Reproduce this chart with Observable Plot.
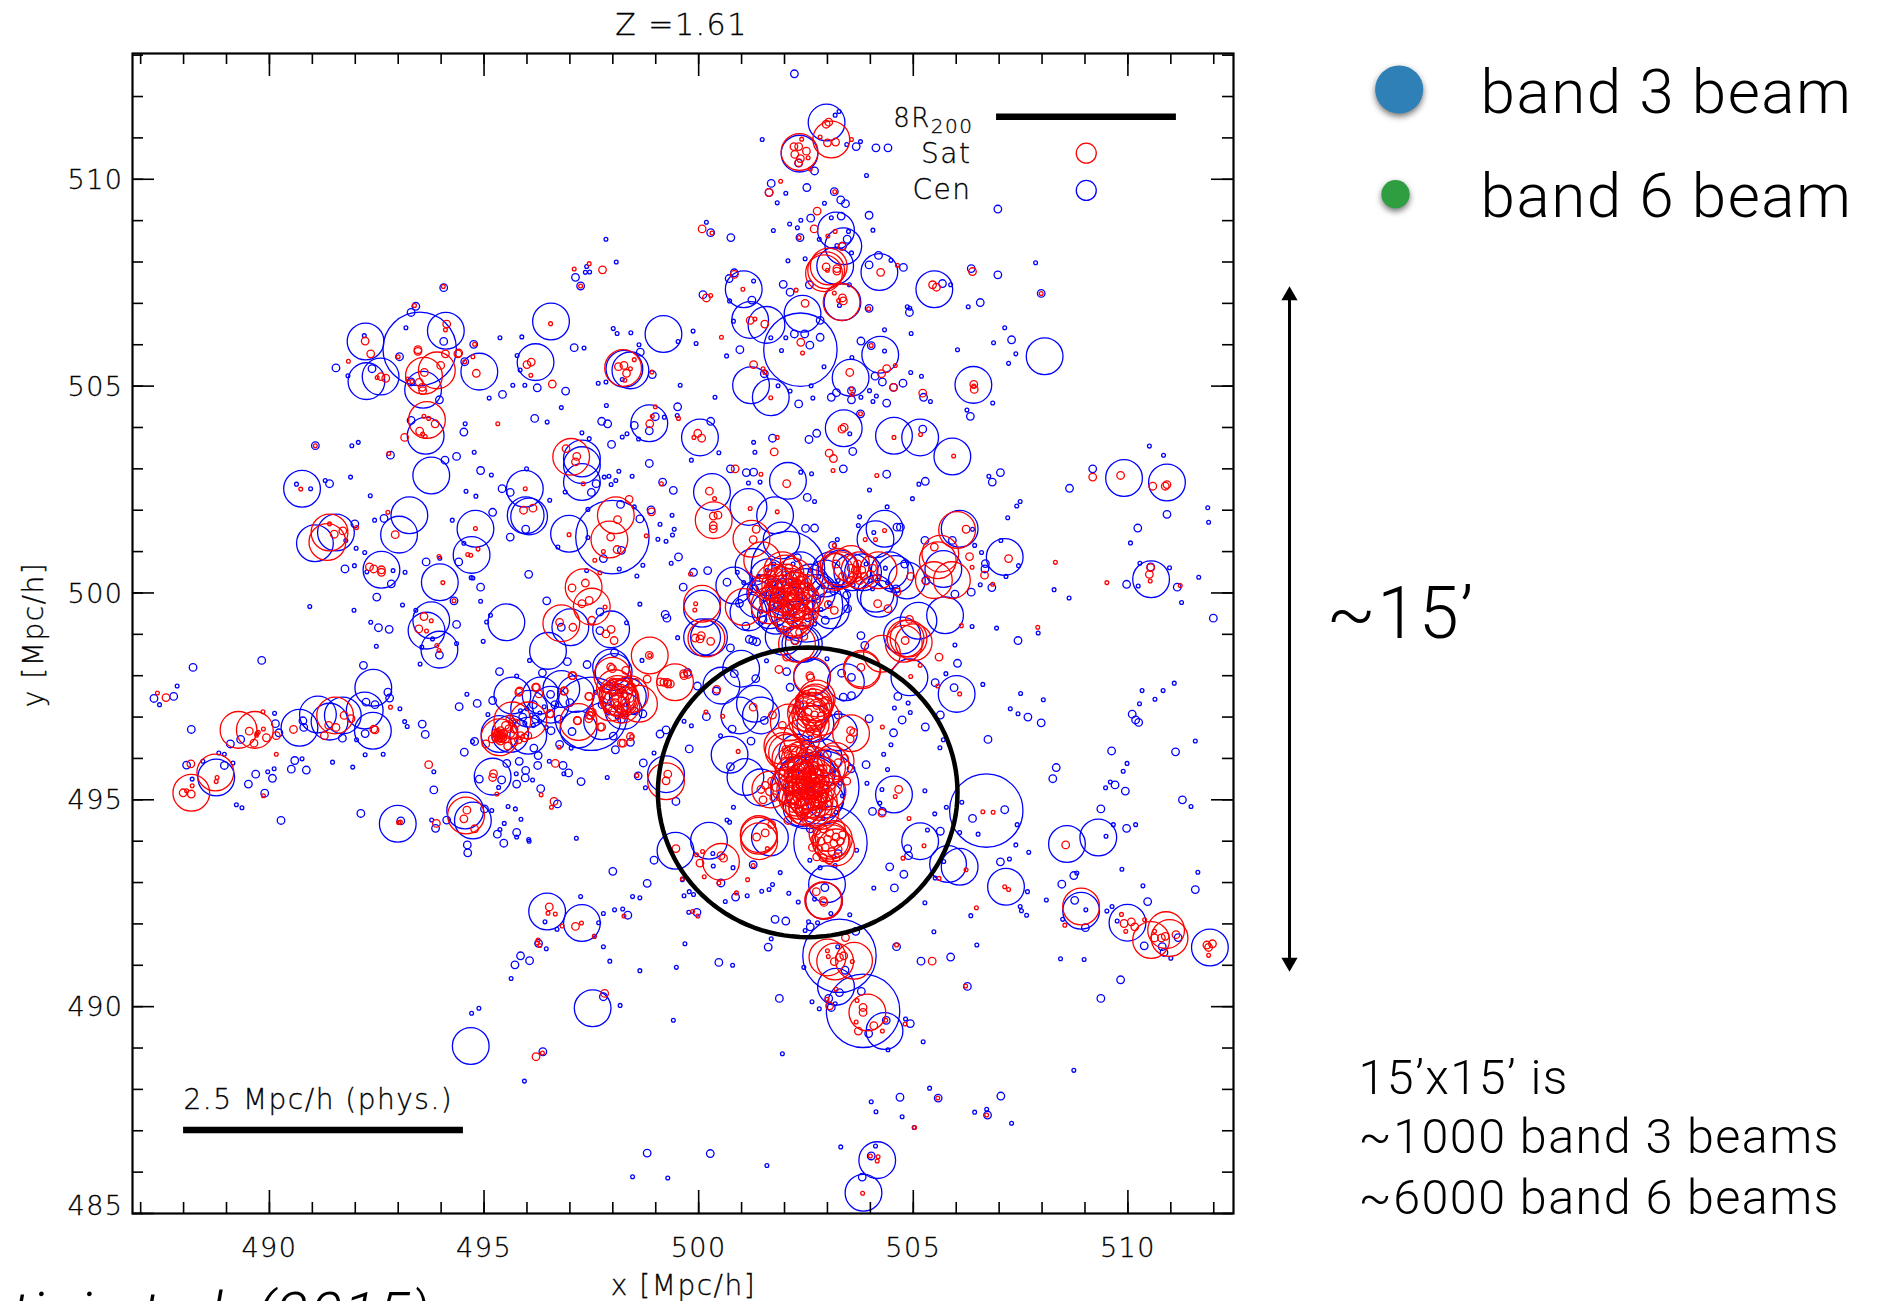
<!DOCTYPE html>
<html><head><meta charset="utf-8">
<script src="https://cdn.jsdelivr.net/npm/d3@7"></script>
<script src="https://cdn.jsdelivr.net/npm/@observablehq/plot@0.6"></script>
<style>
html,body{margin:0;padding:0;background:#fff;overflow:hidden}
svg{display:block}
[aria-description="beam"]{filter:drop-shadow(0 3px 3px rgba(0,0,0,.55))}
[aria-description="idl"] text, g[aria-label$="tick label"] text{stroke:#000;stroke-width:.3px}
</style></head><body>
<script>
// radii (Mpc/h) of the ring classes
const rTiny=0.044, rSmall=0.088, rBig=0.428, rHuge=0.855, rLegend=0.233;
const xMajor=[490,495,500,505,510];
const yMajor=[490,495,500,505,510];
const yMajorTicks=[485,490,495,500,505,510];
const xMinor=d3.range(487,513);
const yMinor=d3.range(485,514);

const cenHuge=[[493.5,505.9],[502.37,505.88],[497.99,501.35],[497.49,497.08],[502.54,495.19],[502.88,495.3],[503.07,493.96],[506.7,494.74],[503.28,491.23],[503.83,489.9],[502.08,500.6],[502.5,499.7]];
const cenBig=[[492.24,506.08],[494.11,506.34],[494.89,505.35],[492.26,505.12],[492.59,505.23],[493.58,504.91],[496.56,506.56],[496.2,505.58],[498.41,505.38],[498.27,505.42],[499.18,506.26],[498.85,504.1],[493.64,503.8],
[502.98,511.37],[502.35,510.62],[503.18,507.91],[503.2,508.76],[503.37,508.38],[503.35,507.03],[504.21,507.76],[505.49,507.34],[501.05,507.34],[501.2,506.6],[501.58,506.48],[502.42,506.75],[504.23,505.76],[503.54,505.2],[501.22,505.02],[501.68,504.73],[506.4,505.03],[508.06,505.72],[503.38,503.98],[504.55,503.8],[505.16,503.76],[500.03,503.76],
[490.76,502.52],[491.55,501.46],[491.06,501.2],[493.26,501.88],[493.02,501.41],[492.61,500.56],[493.97,500.26],[493.77,499.34],[493.66,499.09],[493.96,498.63],[493.77,502.84],[495.95,502.52],[495.97,501.88],[496.05,501.85],[494.8,501.55],[494.71,500.92],[496.98,501.43],[497.28,503.25],[497.28,503.09],[497.28,502.68],[495.52,499.29],[496.49,498.6],[497.01,499.17],[497.96,499.12],[497.96,498.2],[492.42,497.71],[492.22,497.16],[492.41,496.67],[490.7,496.74],[491.13,497.06],[491.4,496.89],[491.71,497.04],[495.66,497.52],[496.32,497.52],[496.8,497.68],[497.14,497.56],[495.61,496.59],[496.03,496.55],[495.36,496.59],[488.76,495.54],[495.2,495.56],[494.56,494.74],[494.74,494.5],[492.99,494.42],[499.24,495.62],[498.02,498.09],
[502.08,502.71],[505.91,503.3],[500.31,502.44],[501.16,502.08],[501.78,501.88],[504.33,501.55],[504.12,501.3],[506.08,501.55],[507.13,500.87],[501.93,501.27],[509.91,502.78],[510.91,502.67],[510.54,500.33],[505.7,500.58],[504.12,499.98],[504.2,499.86],[505.74,499.46],[505.12,499.33],[504.74,498.97],[500.83,500.18],[501.28,500.63],[501.62,500.38],[503.08,500.55],[503.58,500.5],[503.83,500.5],[504.58,500.46],[503.08,499.58],[501.16,499.53],[501.66,499.58],[500.08,499.62],[500.08,498.93],[500.24,498.93],[502.45,498.77],[500.99,498.17],[500.53,497.76],[503.43,497.84],[504.91,497.96],[506.01,497.56],[501.31,497.32],[500.95,497.04],[501.45,497.04],[500.72,496.09],[501.09,495.55],[501.45,495.3],[502.91,496.03],[502.72,496.84],[504.55,495.13],[505.16,494.0],[500.24,494.01],[501.66,494.09],[508.58,493.93],[509.31,494.09],[502.3,496.14],[503.27,496.63],[502.64,497.96],[501.98,498.94],[502.37,498.77],[502.37,500.55],[503.3,500.59],[503.07,499.82],
[496.47,492.3],[497.28,492.02],[497.53,489.96],[494.69,489.05],[499.46,493.77],[505.81,493.45],[506.08,493.38],[507.16,492.9],[508.91,492.32],[502.99,492.96],[502.92,492.56],[509.99,492.03],[511.91,491.43],[503.2,490.48],[504.33,489.41],[504.16,486.29],[503.84,485.5],
[501.55,500.0],[501.8,499.45],[502.0,499.9],[502.25,499.35],[502.6,500.25],[502.75,500.0],[501.35,499.85],[502.95,500.35],[504.45,500.55],[504.85,500.3],[497.2,496.7],[497.75,496.9],[498.25,497.15],[498.35,497.5],[496.05,497.2],[496.55,497.3],[502.3,495.6],[502.75,495.65],[502.95,495.0],[502.4,494.8]];
const cenSmall=[[494.06,507.38],[493.41,506.93],[493.3,506.78],[493.03,505.71],[494.06,506.08],[494.76,506.01],[491.55,505.44],[492.39,505.42],[494.55,505.59],[497.13,507.63],[497.25,507.42],[497.1,505.93],[498.64,505.82],[495.43,504.8],[496.24,504.96],[496.9,504.88],[498.92,505.28],[493.96,504.67],[496.18,504.22],[497.74,504.15],[497.88,504.09],[494.53,503.89],[499.51,504.5],[498.5,504.05],[498.85,503.92],[498.99,504.26],[493.3,504.17],[493.3,505.1],
[502.23,512.55],[503.67,510.79],[504.13,510.76],[504.41,510.76],[502.7,510.2],[502.33,510.39],[501.69,509.9],[501.64,509.68],[502.52,509.8],[503.16,509.7],[503.31,509.5],[503.42,509.41],[503.97,509.13],[503.32,509.11],[506.97,509.28],[502.61,509.06],[500.28,508.71],[500.75,508.59],[502.36,508.59],[503.46,508.55],[503.35,508.38],[504.77,507.87],[503.97,507.93],[504.19,508.16],[505.68,507.48],[506.35,507.84],[506.97,507.69],[500.83,507.74],[500.71,507.6],[501.97,507.46],[502.13,507.27],[502.58,507.45],[500.1,507.21],[501.24,507.08],[503.97,506.88],[504.91,506.78],[506.56,507.02],[507.98,507.24],[502.83,506.59],[502.23,506.26],[502.47,506.26],[502.83,506.18],[502.59,505.99],[503.78,506.09],[507.29,506.12],[500.96,505.88],[504.02,505.98],[501.53,505.3],[504.11,505.24],[504.28,505.1],[504.76,505.07],[504.54,504.97],[505.24,504.73],[503.21,504.84],[503.09,504.73],[503.56,504.89],[503.56,504.67],[502.33,504.57],[504.38,504.59],[506.33,504.27],[503.77,504.33],[500.28,504.15],[502.75,503.86],[505.22,503.96],[501.72,503.74],[502.57,503.71],
[491.07,503.56],[492.82,503.33],[494.09,503.21],[494.36,503.3],[494.92,502.96],[497.97,503.59],[498.85,503.13],[491.4,502.64],[495.42,502.52],[495.61,502.43],[497.5,502.43],[497.61,502.64],[495.2,501.95],[495.97,501.54],[492.67,501.8],[491.99,501.67],[495.61,501.35],[498.18,502.14],[498.89,502.01],[498.63,501.79],[499.41,502.48],[499.16,502.68],[491.76,500.58],[493.65,500.75],[494.41,500.75],[496.04,500.45],[492.84,500.22],[494.92,500.14],[492.5,499.9],[496.46,499.81],[494.3,499.81],[498.2,501.03],[497.78,500.83],[492.54,499.16],[492.79,499.12],[494.36,499.24],[496.8,499.17],[497.7,499.09],[497.7,499.54],[499.22,499.48],[499.26,499.39],[499.53,500.87],[493.96,498.5],[489.82,498.37],[488.22,498.2],[492.19,498.25],[496.94,498.34],[497.4,498.27],[498.04,498.56],[495.36,498.1],[496.36,498.07],[487.31,497.45],[487.77,497.5],[494.42,497.25],[494.84,497.33],[492.8,497.46],[492.76,497.6],[492.46,497.3],[492.25,497.36],[495.2,497.4],[490.78,496.91],[490.14,496.84],[490.22,496.62],[488.18,496.7],[490.8,496.75],[493.56,496.83],[493.63,496.58],[492.23,496.6],[491.7,496.49],[489.33,496.46],[489.09,496.35],[494.54,496.15],[494.78,496.41],[496.56,496.67],[497.05,496.65],[496.16,496.25],[498.01,496.54],[498.7,497.08],[499.1,496.59],[499.24,496.69],[498.41,496.39],[498.06,496.21],[496.76,496.34],[496.26,496.07],[490.59,495.95],[490.51,495.74],[490.86,495.72],[489.68,495.62],[490.07,495.52],[489.51,495.38],[488.95,495.83],[488.07,495.84],[495.53,495.88],[495.82,495.93],[495.97,495.71],[496.25,495.83],[496.84,495.83],[496.97,495.65],[495.96,495.53],[495.76,495.38],[494.89,495.5],[495.41,495.48],[497.26,495.44],[496.32,495.27],[498.59,495.58],[498.71,495.89],[496.71,494.9],[493.83,495.24],[489.89,495.16],[490.27,494.5],[492.13,494.67],[493.06,494.49],[493.87,494.31],[494.13,494.51],[495.01,494.78],[495.76,494.21],[499.47,494.96],[495.31,494.17],
[509.18,503.0],[507.03,502.91],[508.64,502.53],[504.38,502.87],[505.28,502.7],[506.84,502.68],[502.53,502.31],[500.74,503.0],[501.11,502.91],[501.28,502.92],[503.37,503.0],[503.59,503.42],[510.91,501.9],[510.23,501.57],[502.49,501.56],[502.7,501.57],[504.62,501.59],[504.7,501.59],[509.97,500.21],[510.53,500.63],[511.15,500.14],[511.99,499.39],[507.44,498.85],[506.03,498.3],[505.51,497.83],[505.95,497.71],[504.64,497.5],[504.74,496.93],[505.28,496.76],[504.54,496.62],[506.74,496.46],[505.63,497.05],[503.97,496.96],[503.56,497.96],[503.33,498.06],[503.37,497.48],[503.56,497.52],[502.05,498.1],[502.13,497.72],[499.78,496.23],[501.22,496.42],[500.74,495.8],[501.53,496.92],[500.78,496.71],[500.18,497.01],[499.97,497.75],[499.74,498.08],[501.33,497.93],[500.83,498.05],[500.41,497.63],[509.62,496.18],[510.1,497.07],[510.18,496.93],[510.25,496.87],[507.67,497.0],[507.98,496.86],[511.11,496.16],[508.33,495.78],[508.25,495.51],[509.7,495.36],[509.94,495.21],[511.27,495.0],[509.37,494.78],[509.97,494.31],[506.38,494.55],[507.13,494.76],[505.63,494.24],[504.05,494.72],[504.28,494.72],[503.12,501.15],[503.78,498.97],[503.87,498.73],[506.67,500.58],[506.68,500.71],[506.83,500.13],[506.35,500.02],[505.97,499.97],[505.29,500.3],[505.91,501.27],[505.27,501.27],[503.47,499.62],[502.95,499.34],[499.88,500.5],[500.21,500.54],[500.66,500.26],[499.64,500.14],[501.26,498.85],[501.35,498.82],[501.18,498.88],[500.74,498.67],[502.24,498.85],
[494.61,493.91],[494.62,493.72],[495.46,493.95],[498.0,493.27],[498.8,492.98],[498.96,493.54],[498.35,492.21],[496.27,491.53],[495.85,491.23],[495.72,491.01],[496.06,491.11],[497.78,490.24],[496.37,488.91],[498.8,486.46],
[508.74,493.17],[508.46,492.96],[508.76,492.57],[509.01,491.91],[511.57,492.83],[510.46,492.54],[510.38,491.47],[510.8,491.45],[510.84,491.31],[511.17,491.67],[507.03,493.5],[504.45,493.38],[504.78,493.2],[504.56,492.87],[504.87,493.82],[504.89,493.65],[500.86,492.65],[499.96,492.28],[500.52,492.99],[501.27,493.43],[502.94,492.88],[501.78,492.11],[502.03,492.07],[502.6,491.93],[503.66,491.82],[501.62,491.44],[500.47,491.07],[504.61,491.45],[505.18,491.1],[505.87,491.2],[506.26,490.49],[509.83,490.65],[509.37,490.2],[503.41,490.88],[503.28,490.34],[503.79,490.37],[503.03,490.2],[503.09,489.98],[501.88,490.2],[503.96,489.35],[504.37,489.67],[504.93,489.59],[504.69,487.81],[505.58,487.79],[507.04,487.84],[506.73,487.38],[500.27,486.45],[504.02,486.39],[503.81,485.88],
[496.15,497.3],[496.55,497.55],[496.65,497.3],[495.9,497.0],[496.2,496.95],[496.75,496.95],[497.0,497.35],[497.75,497.3],[498.2,496.95],[498.5,497.15],[503.0,496.1],[502.5,496.35],[503.55,495.75],[503.9,495.85],[502.6,494.3],[503.25,493.7],[502.35,497.3],[503.25,497.05],
[501.7,500.25],[501.85,499.7],[502.05,499.45],[502.3,500.85],[502.55,499.4],[502.75,499.85],[501.5,499.35],[501.3,500.1],[500.95,499.75],[501.1,499.2],[501.9,499.15],[503.15,500.05],[503.45,499.95],[504.6,500.1],[504.8,500.7]];
const cenTiny=[[497.84,508.55],[498.08,508.0],[497.39,507.89],[497.36,507.75],[497.46,507.76],[493.18,506.41],[492.21,506.22],[495.37,506.17],[495.88,506.19],[498.01,506.39],[498.1,506.27],[498.42,506.29],[497.33,505.92],[498.61,506.0],[495.77,505.74],[499.52,506.08],[491.83,505.25],[495.84,505.39],[495.67,505.02],[495.95,505.02],[497.66,505.07],[497.84,505.1],[498.22,505.16],[495.12,504.71],[496.8,504.48],[497.85,504.53],[496.47,504.13],[494.56,504.09],[497.28,503.87],[497.45,503.73],[498.22,503.77],[498.33,503.85],[499.2,504.25],[499.5,504.29],[498.6,503.72],[499.57,505.02],
[503.27,511.64],[503.18,511.55],[501.48,510.96],[503.77,510.91],[503.45,510.84],[503.91,510.09],[502.03,509.66],[501.83,509.43],[502.93,509.42],[502.38,509.01],[502.12,508.92],[500.18,508.96],[502.3,508.83],[501.74,508.76],[504.06,508.77],[503.49,508.74],[503.09,509.07],[502.81,508.55],[503.22,508.4],[503.56,508.22],[502.48,508.08],[502.08,508.03],[504.48,508.04],[507.85,507.98],[501.28,507.54],[505.87,507.45],[503.51,507.45],[500.72,507.06],[504.86,506.92],[504.92,506.88],[506.28,506.92],[503.28,506.95],[499.87,506.33],[500.81,506.57],[499.94,506.03],[501.68,506.17],[502.03,506.17],[504.33,506.36],[504.95,506.27],[507.13,506.41],[506.87,506.05],[507.39,505.78],[507.22,505.55],[506.03,505.88],[501.93,505.86],[504.33,505.85],[500.65,505.73],[503.57,505.69],[502.92,505.47],[504.94,505.33],[505.19,505.24],[501.85,505.01],[502.62,505.01],[502.13,504.88],[503.98,504.89],[504.14,504.76],[503.78,504.73],[504.06,504.63],[500.38,504.73],[502.66,504.71],[505.4,504.63],[506.85,504.59],[506.25,504.42],[503.52,503.85],
[491.92,503.56],[492.07,503.64],[494.77,503.4],[495.17,502.85],[495.99,503.0],[491.89,502.8],[490.63,502.63],[490.96,502.52],[491.3,502.72],[492.35,502.35],[494.58,502.46],[494.81,502.34],[496.53,502.24],[497.91,502.82],[498.14,502.94],[498.45,502.82],[498.07,502.72],[497.96,502.62],[497.8,502.8],[496.89,502.44],[497.42,502.02],[498.5,502.08],[492.45,501.76],[494.26,501.76],[499.38,501.88],[499.1,501.66],[499.43,501.54],[499.39,501.4],[499.05,501.3],[499.24,501.25],[496.72,501.11],[497.42,501.34],[491.78,501.27],[492.02,501.08],[492.22,500.98],[491.98,500.66],[492.27,500.51],[492.88,500.54],[493.16,500.5],[499.36,500.72],[498.7,500.67],[498.15,500.58],[498.56,500.41],[497.39,500.54],[494.7,500.37],[494.74,500.36],[494.53,501.2],[493.97,500.84],[493.1,499.71],[494.92,499.8],[490.94,499.67],[491.97,499.58],[498.63,499.73],[495.15,499.46],[495.06,499.3],[493.41,499.58],[492.36,499.29],[492.49,498.71],[493.8,498.89],[493.55,498.69],[494.36,498.78],[494.98,498.83],[496.06,498.37],[498.32,499.28],[498.68,498.37],[499.51,498.92],[493.51,498.28],[487.85,497.75],[487.44,497.3],[493.04,497.2],[494.6,497.55],[490.12,497.09],[493.15,496.89],[493.21,496.77],[495.76,497.99],[495.09,497.06],[494.73,496.41],[492.03,496.45],[488.82,496.13],[488.95,496.1],[492.23,496.09],[492.65,496.1],[497.03,496.25],[498.96,496.13],[488.45,495.93],[489.15,495.89],[490.76,495.99],[491.47,495.91],[491.94,495.79],[496.52,495.93],[493.83,495.68],[489.96,495.68],[490.11,495.75],[495.75,495.63],[496.13,495.48],[497.87,495.54],[496.86,495.63],[495.34,495.3],[488.2,495.5],[498.76,495.29],[489.23,494.88],[489.36,494.81],[495.56,494.84],[495.73,494.78],[495.86,494.53],[495.47,494.43],[493.78,494.51],[495.18,494.74],[495.37,494.28],[496.04,494.04],[497.15,494.07],[495.76,494.1],
[510.5,503.55],[510.83,503.33],[501.28,503.64],[501.31,503.4],[500.47,503.39],[499.83,503.21],[502.63,502.88],[502.38,502.92],[501.43,502.68],[501.16,502.66],[502.7,502.21],[503.98,502.49],[504.98,502.28],[505.13,502.63],[506.76,502.82],[507.49,502.21],[507.41,502.1],[507.2,501.82],[511.86,502.06],[511.88,501.71],[510.06,501.21],[504.39,502.08],[503.75,501.84],[503.72,501.63],[504.08,501.46],[503.23,501.29],[506.38,501.54],[506.43,501.15],[506.59,500.98],[507.04,501.27],[508.28,500.08],[508.63,499.88],[507.16,500.4],[507.45,500.66],[510.28,500.72],[510.97,500.61],[511.65,500.38],[511.25,499.77],[510.24,500.17],[506.56,500.2],[506.94,499.15],[506.37,499.19],[507.91,499.03],[505.97,498.74],[505.76,498.05],[506.62,497.79],[507.5,497.57],[508.03,497.42],[507.26,497.2],[507.44,497.08],[510.33,497.64],[510.82,497.64],[511.08,497.82],[510.63,497.43],[510.27,497.32],[511.57,496.42],[509.98,495.88],[509.89,495.69],[509.59,495.43],[509.48,495.29],[511.47,494.84],[510.18,494.4],[509.66,494.4],[509.49,494.12],[506.13,494.94],[505.77,494.82],[505.27,495.22],[505.5,494.66],[505.7,496.45],[505.62,496.26],[504.48,496.33],[504.31,496.1],[504.4,495.73],[503.92,495.4],[504.56,497.22],[504.88,497.34],[504.93,497.11],[504.27,495.25],[504.22,494.92],[500.81,494.82],[500.66,494.51],[500.72,494.46],[500.51,496.55],[499.83,496.79],[499.66,496.9],[501.58,498.36],[502.99,498.41],[506.08,494.21],[505.33,494.27],[507.42,494.4],[506.51,494.17],
[496.05,494.0],[499.62,493.07],[497.25,492.66],[498.46,492.66],[498.63,492.63],[498.04,492.34],[498.23,492.36],[497.78,492.25],[496.42,492.05],[497.67,492.03],[496.7,491.87],[497.57,491.7],[496.45,491.4],[497.78,491.45],[497.93,491.1],[498.63,490.87],[499.48,490.95],[495.63,490.68],[498.17,490.03],[494.88,489.96],[494.71,489.84],[499.41,489.67],[495.94,488.2],[498.46,485.89],[499.28,485.86],
[507.24,493.57],[507.69,493.73],[507.39,493.91],[509.86,493.32],[511.63,493.25],[510.35,492.92],[507.66,492.78],[508.1,492.58],[509.02,492.34],[509.51,492.31],[509.63,492.42],[508.81,493.23],[507.49,492.42],[507.52,492.32],[507.64,492.21],[508.48,492.11],[509.75,492.07],[506.34,492.2],[505.48,491.81],[506.48,491.49],[508.43,491.16],[508.98,491.14],[511.0,491.17],[505.27,492.51],[505.51,493.11],[505.71,493.51],[504.08,492.87],[501.9,493.24],[501.72,492.95],[501.64,492.83],[501.47,492.79],[501.13,492.68],[502.1,492.74],[502.32,492.53],[500.62,492.54],[499.66,492.68],[499.78,492.78],[499.88,492.71],[499.77,492.28],[499.68,491.52],[500.79,491.0],[501.69,491.64],[502.48,491.84],[502.56,492.05],[502.77,492.03],[503.52,492.22],[503.08,492.25],[502.7,492.6],[503.18,490.07],[502.64,490.12],[502.81,489.95],[504.82,489.7],[505.23,489.15],[504.41,488.96],[501.95,488.86],[508.74,488.46],[505.38,488.03],[504.02,487.7],[504.13,487.46],[504.74,487.34],[505.02,487.08],[506.43,487.45],[506.71,487.52],[507.29,487.18],[503.31,486.61],[504.12,486.63],[501.59,486.16],[503.24,491.45],[502.45,490.95],[503.18,493.41],[502.83,493.36],[502.59,493.54],[503.68,493.78],[500.8,493.36],[500.34,493.4],[500.33,493.7],
[495.85,497.15],[496.0,497.2],[496.1,497.05],[496.3,497.1],[496.4,497.25],[495.95,496.85],[496.15,496.8],[496.3,496.9],[496.45,496.75],[497.6,497.6],[497.75,497.45],[497.9,497.1],[498.1,497.0],[498.3,497.3],[501.9,500.0],[502.2,500.7],[502.5,500.2],[503.6,500.2],[503.9,500.7],[504.0,500.3],[504.2,500.4],[504.35,500.6],[504.05,500.1],[504.4,500.25],[502.6,496.5],[502.8,496.1],[503.1,495.7],[503.3,495.4],[503.35,495.1],[502.9,494.55],[503.2,494.7],
[501.4,500.4],[501.6,500.55],[501.75,500.7],[501.55,499.85],[501.7,499.75],[501.45,499.55],[502.6,500.55],[502.8,500.4],[502.9,500.15],[502.85,499.6],[502.7,499.25],[503.05,499.75],[503.25,500.3],[500.9,500.5],[501.05,500.25],[501.2,500.05]];

const satBig=[[493.9,505.38],[493.6,505.25],[493.67,504.18],[498.24,505.44],[502.35,510.66],[503.09,510.96],[503.33,507.03],[503.03,507.89],[502.97,507.8],[502.92,507.73],
[497.03,503.29],[491.4,501.46],[491.35,501.23],[498.07,501.88],[497.92,501.29],[497.32,500.14],[497.51,499.67],[496.8,499.27],[497.2,496.88],[497.99,498.0],[498.11,497.56],[498.11,497.48],[498.15,497.48],[498.18,497.44],[498.61,497.32],[498.86,498.49],[499.45,497.84],[491.53,497.04],[489.66,496.69],[489.28,496.69],[488.74,495.66],[488.18,495.17],[495.66,496.92],[496.03,496.92],[495.36,496.51],[494.58,494.62],[499.24,495.45],
[500.35,501.76],[501.23,501.31],[501.48,500.79],[501.05,499.66],[500.08,499.74],[500.18,498.9],[502.02,500.47],[502.21,500.39],[502.1,499.74],[502.14,500.15],[501.98,499.98],[502.37,499.58],[502.29,498.77],[501.59,499.98],[501.9,500.19],[503.26,500.63],[503.18,500.51],[503.3,500.55],[504.19,500.55],[505.48,500.31],[505.63,500.95],[505.57,500.79],[505.9,500.31],[506.02,501.52],[504.82,498.9],[504.89,498.9],[504.78,498.77],[505.01,498.81],[504.27,498.53],[503.8,498.17],[502.64,498.0],
[503.81,498.13],[502.68,497.31],[502.68,497.23],[502.64,497.15],[502.72,497.35],[502.6,497.07],[502.53,496.9],[502.1,496.87],[502.61,496.83],[503.55,496.61],[501.98,496.18],[502.06,496.14],[501.95,496.3],[502.14,496.0],[503.07,495.86],[502.99,495.78],[503.19,495.94],[502.49,495.7],[501.67,495.25],[502.61,495.46],[502.45,495.13],[502.37,494.97],[502.53,494.81],[502.68,494.81],[502.84,494.73],[501.4,494.17],[501.4,494.13],[503.07,494.01],[503.15,494.05],[503.1,493.95],
[502.92,492.56],[502.9,492.57],[500.52,493.5],[501.41,494.0],[508.91,492.42],[510.89,491.85],[510.97,491.66],[510.54,491.61],[503,491.19],[503.18,491.09],[503.62,491.11],[503.93,489.86],
[502.2,495.85],[502.35,495.95],[502.5,495.9],[502.65,495.85],[502.3,495.55],[502.5,495.45],[502.7,495.55],[502.25,495.25],[502.4,495.3],[502.6,495.2],[502.75,495.3],[502.9,495.4],[502.55,495.0],[502.7,495.0],[502.3,495.05],[502.45,494.85],[502.8,494.95],[502.2,495.6],[502.85,495.6],[502.1,495.35],[503.0,495.2],[502.85,497.0],[502.5,497.1],[502.75,497.45],[502.4,496.5],[503.0,494.2],[503.2,493.85],
[502.05,500.25],[502.25,500.05],[502.15,499.9],[502.3,499.85],[501.85,499.85],[502.05,499.55],[502.2,499.4],[502.4,499.8],[502.5,500.0],[501.75,500.25],[501.65,499.7],[501.95,500.55],[503.75,500.55],[503.55,500.7],
[498.05,497.7],[498.2,497.3],[497.95,497.35],[498.4,497.55]];
const satSmall=[[492.23,506.09],[492.36,505.78],[493.46,505.88],[493.46,505.84],[494.13,506.5],[494.1,505.78],[494.41,505.8],[494.39,505.78],[493.99,505.5],[493.61,505.33],[494.82,505.31],[492.6,505.23],[492.71,505.19],[493.49,505.09],[493.57,504.89],[493.56,504.97],[496.0,505.52],[496.1,505.58],[496.59,505.05],[497.76,507.81],[498.13,505.47],[498.26,505.5],[498.32,505.31],[493.86,504.09],[493.5,503.91],[493.15,503.76],[498.86,504.09],
[503.03,511.38],[502.97,511.33],[502.22,510.79],[502.33,510.79],[502.51,510.68],[502.24,510.6],[502.37,510.5],[502.33,510.4],[503,510.88],[503.19,510.9],[501.64,509.68],[502.76,509.23],[502.69,508.8],[500.08,508.8],[503.34,508.38],[502.97,507.88],[503.22,507.84],[503.22,507.78],[504.24,507.75],[505.45,507.45],[505.54,507.39],[506.38,507.77],[500.83,507.7],[500.18,507.13],[503.35,507.13],[503.37,507.06],[502.48,507.0],[501.2,506.59],[501.54,506.5],[502.38,506.06],[501.28,505.52],[504.38,505.42],[504.26,505.3],[503.52,505.33],[504.54,504.97],[505.22,504.83],[506.41,505.04],[506.42,504.92],[503.39,504],[503.34,503.96],[499.98,503.86],[500.07,503.74],
[492.33,500.63],[492.43,500.58],[492.61,500.56],[492.61,500.5],[492.93,501.41],[493.6,499.43],[493.48,499.13],[491.51,501.42],[491.71,501.5],[496.91,503.49],[497.16,503.3],[497.13,503.17],[498.38,502.26],[498.9,501.96],[498.11,501.77],[497.95,501.35],[498.1,501.05],[495.92,502.0],[496.14,502.05],[497.36,500.24],[497.05,500.12],[497.28,499.74],[497.45,499.82],[496.76,499.29],[497.07,499.17],[497.51,499.34],[497.96,499.12],[497.84,499.01],[498.03,498.85],[499.11,497.85],[499.28,497.8],[487.59,497.47],[490.56,496.7],[491.74,497.04],[491.55,496.75],[491.38,496.8],[491.28,496.55],[491.9,496.96],[492.46,496.69],[492.43,496.71],[489.53,496.66],[489.93,496.5],[489.64,496.37],[490.16,496.55],[488.17,495.87],[487.99,495.17],[488.18,495.14],[495.22,495.63],[495.2,495.54],[496.66,495.88],[493.71,495.85],[498.24,496.37],[497.18,496.91],[497.45,497.04],[497.45,497.5],[496.87,497.63],[496.55,497.08],[496.22,497.72],[495.83,497.63],[497.07,498.0],[497.99,498.17],[496.63,494.96],[494.53,494.54],[494.78,494.3],[494.6,494.75],[493.89,494.43],[497.74,496.76],[499.24,495.46],[499.28,495.62],
[495.38,496.67],[495.31,496.59],[495.42,496.55],[495.35,496.5],[495.46,496.61],[495.38,496.42],[495.27,496.5],[495.5,496.47],[495.19,496.47],[495.04,496.35],[495.7,496.71],[495.66,496.88],[495.85,496.55],[495.94,496.5],[496.02,496.55],[495.6,496.96],[495.5,496.8],[495.81,497.6],[496.2,497.72],[496.28,497.56],[496.53,497.08],[496.86,497.63],[497.05,498.0],[497.44,497.5],[497.48,497.04],[497.44,496.96],[497.52,497.12],[497.17,496.92],[497.71,496.76],[498.2,496.37],[498.41,496.53],[497.95,498.21],[497.95,497.8],[498.02,497.6],[498.22,497.4],[498.1,497.28],[498.26,497.56],[498.37,497.64],[498.18,497.16],[498.3,498.13],[498.53,497.84],[498.8,497.92],[499.27,497.84],[499.34,497.8],[499.19,497.84],[499.65,498.05],[499.75,498.03],[498.85,498.49],[498.05,497.35],[497.98,497.15],[498.32,497.25],[498.12,497.72],
[495.33,496.63],[495.4,496.6],[495.3,496.55],[495.36,496.57],[495.44,496.5],[495.33,496.46],[495.4,496.48],[495.28,496.62],[495.58,496.72],[495.62,496.6],[495.75,496.85],[495.8,496.45],[495.55,496.3],[495.7,496.4],
[497.85,497.7],[498.0,497.85],[498.15,497.6],[498.3,497.35],[497.9,497.5],[498.05,497.5],[498.2,497.7],[498.4,497.45],[498.15,497.2],[497.9,497.25],[498.28,497.05],[498.45,497.72],
[509.83,502.84],[509.18,502.8],[510.58,502.58],[510.87,502.58],[510.91,502.62],[502.05,502.64],[503.04,503.38],[503.14,503.25],[501.76,503.41],[500.85,503.0],[500.25,502.46],[500.34,501.86],[500.45,501.88],[500.34,501.63],[500.34,501.55],[501.34,501.54],[501.27,501.29],[506.23,501.54],[507.22,500.83],[505.49,501.11],[506.31,500.88],[506.66,500.43],[510.53,500.61],[510.5,500.45],[504.94,500.4],[504.41,499.62],[504.17,499.74],[505.3,500.29],[504.62,500.02],[504.81,498.85],[504.91,499.36],[505.6,498.45],[501.87,498.15],[502.59,498.0],[502.61,497.95],[503.78,498.2],[503.54,496.67],[503.61,496.63],[503.53,496.47],[501.27,497.24],[504.66,495.25],[504.27,494.68],[500.06,498.97],[500.03,498.89],[500.28,498.83],[499.92,498.91],[499.66,498.0],[500.42,497.67],[502.05,498.45],[503.16,499.58],[503.02,499.72],
[501.85,500.5],[501.95,500.35],[502.1,500.6],[502.25,500.45],[502.4,500.3],[501.75,500.2],[501.9,500.05],[502.05,500.2],[502.2,500.15],[502.35,500.05],[502.55,500.15],[501.85,499.85],[502.0,499.8],[502.15,499.92],[502.3,499.75],[502.45,499.85],[502.05,499.6],[502.2,499.55],[502.35,499.45],[502.5,499.6],[502.15,499.35],[502.3,499.25],[502.5,499.3],[502.65,499.45],[502.1,498.95],[502.25,498.85],[503.2,500.7],[503.35,500.4],[503.55,500.6],[503.75,500.3],[504.0,500.45],[504.05,500.6],[504.15,500.35],
[501.5,500.35],[501.62,500.15],[501.7,500.45],[501.55,499.95],[501.72,499.92],[502.03,500.43],[502.18,500.28],[502.3,500.25],[501.92,499.68],[502.12,499.72],[502.26,499.62],[502.42,499.66],[502.1,499.45],[502.28,499.4],[502.42,499.2],[502.6,499.7],[502.65,500.0],[502.08,500.02],[502.22,499.98],[502.38,499.92],[503.6,500.4],[503.65,500.55],[503.7,500.7],[503.8,500.55],[503.55,500.3],[503.7,500.45],[503.85,500.4],[502.0,499.1],[502.35,499.05],[502.45,498.95],
[500.03,493.47],[500.52,493.65],[500.58,493.59],[502.74,492.78],[502.9,492.56],[502.92,492.52],[508.55,493.91],[511.12,491.74],[510.62,491.66],[510.78,491.66],[510.87,491.7],[509.91,492.01],[510.08,492.05],[510.16,491.93],[511.84,491.49],[511.97,491.52],[511.88,491.43],[505.44,491.1],[503.42,491.67],[503.16,491.09],[503.28,491.19],[503.38,491.23],[503.83,489.98],[503.83,489.86],[504.08,489.54],[503.72,489.41],[503.05,490.02],[496.52,492.41],[497.13,491.94],[497.81,490.32],[496.21,488.79],[499.47,493.82],
[502.03,496.22],[502.12,496.02],[502.22,496.25],[502.0,495.93],[502.16,495.82],[502.31,495.97],[502.36,496.17],[502.46,495.86],[502.57,496.12],[502.08,495.62],[502.27,495.66],[502.42,495.58],[502.58,495.72],[502.72,495.83],[502.66,495.53],[502.82,495.62],[502.18,495.42],[502.36,495.34],[502.52,495.43],[502.63,495.31],[502.81,495.37],[502.96,495.46],[502.13,495.21],[502.31,495.13],[502.47,495.22],[502.59,495.12],[502.77,495.24],[502.92,495.14],[502.24,494.98],[502.41,494.93],[502.56,495.01],[502.71,494.92],[502.87,495.02],[502.19,494.79],[502.37,494.74],[502.52,494.82],[502.66,494.73],[502.81,494.78],[503.0,494.9],[502.45,494.58],
[502.08,496.1],[502.25,495.75],[502.38,495.78],[502.52,495.6],[502.68,495.68],[502.9,495.75],[502.24,495.52],[502.44,495.46],[502.6,495.42],[502.72,495.45],[502.88,495.48],[502.26,495.3],[502.42,495.27],[502.56,495.28],[502.7,495.16],[502.86,495.22],[502.38,495.05],[502.5,495.1],[502.64,495.02],[502.78,495.08],[502.32,494.88],[502.47,494.7],[502.6,494.86],[502.74,494.84],[502.92,494.85],[502.1,495.05],[502.02,495.4],
[502.35,497.45],[502.5,497.55],[502.65,497.6],[502.8,497.5],[502.95,497.4],[502.45,497.3],[502.6,497.35],[502.75,497.28],[502.9,497.2],[503.02,497.25],[502.4,497.1],[502.55,497.12],[502.7,497.05],[502.85,497.02],[502.5,496.9],[502.65,496.85],[502.8,496.8],[502.6,496.65],[502.75,496.6],
[502.75,494.25],[502.9,494.3],[503.05,494.2],[503.2,494.1],[502.7,494.05],[502.85,494.0],[503.0,494.05],[503.15,493.95],[503.3,494.0],[502.65,493.85],[502.8,493.8],[502.95,493.85],[503.1,493.75],[503.25,493.8],[502.75,493.62],[502.9,493.6],[503.05,493.55],[503.2,493.6],[503.35,494.15],
[501.55,495.35],[501.7,495.45],[501.65,495.2],[501.5,495.0],[501.75,495.05],[501.8,495.3],[501.45,495.25],[502.08,494.5],[501.55,494.2],[501.7,494.4],[501.35,494.1],[503.25,495.9],[503.4,496.0],[503.2,495.65],[503.45,495.45],[502.18,497.18],[501.95,496.8],[501.72,497.05]];
const satTiny=[[491.84,505.6],[493.0,505.71],[494.05,507.41],[493.38,506.95],[494.1,506.36],[494.78,506.01],[494.74,505.71],[494.55,505.59],[492.51,505.21],[493.22,505.17],[493.32,505.11],[496.55,506.51],[496.09,505.26],[497.1,507.83],[497.45,507.96],[497.25,507.42],[498.91,505.34],[498.5,505.64],[498.41,505.42],[498.28,505.14],[493.6,504.27],[493.71,504.22],[495.32,504.09],[498.99,504.5],[498.92,504.27],[499.53,504.22],[493.57,503.84],[493.63,503.78],
[502.4,510.97],[502.83,511.02],[503.56,510.96],[502.55,510.52],[502.6,510.25],[501.91,509.95],[503.17,509.7],[500.31,508.7],[502.34,508.59],[503.18,508.74],[503.01,508.63],[503,507.8],[502.27,507.32],[504.63,507.92],[503.16,507.25],[501.03,507.34],[500.28,507.19],[503.96,506.87],[500.53,506.18],[507.98,507.24],[504.02,505.98],[502.42,505.8],[501.5,505.42],[501.54,505.33],[504.58,505.5],[501.68,504.72],[503.56,504.93],[503.58,504.8],[506.41,505.0],[503.77,504.33],[504.55,503.76],[505.17,503.83],[499.89,503.76],[501.83,503.76],[501.31,506.62],[503.26,507.07],
[490.73,502.51],[491.07,503.56],[492.78,503.37],[492.76,501.95],[492.03,501.58],[491.4,501.67],[494.8,501.56],[494.86,501.06],[494.62,500.93],[494.69,500.91],[493.95,500.88],[494.04,500.25],[494.3,499.81],[493.77,499.33],[493.66,499.08],[493.9,498.73],[493.95,498.61],[495.96,502.52],[496.98,501.41],[497.31,502.64],[499.13,502.64],[498.78,501.38],[497.78,501.0],[497.58,500.79],[497.7,500.49],[497.82,499.66],[498.86,498.49],[487.39,497.58],[489.85,497.13],[492.82,497.24],[490.16,496.1],[489.86,496.71],[489.71,496.6],[489.7,496.56],[489.74,496.63],[498.44,496.53],[496.33,495.12],[496.57,494.82],[498.56,495.59],[489.86,495.1],[488.78,495.54],[488.76,495.44],[488.2,495.34],[488.07,495.22],[493.01,494.45],[493.05,494.46],[495.3,495.14],[496.75,496.27],[499.24,497.84],
[504.15,502.84],[508.31,500.74],[509.51,500.25],[510.52,500.29],[511.22,500.18],[507.9,499.17],[506.12,499.21],[504.28,496.76],[505.94,503.31],[506.62,494.71],[506.86,494.7],[504.58,495.08],[504.9,494.55],[506.08,497.56],[500.92,496.17],[500.17,497.12],[500.56,497.02],[504.94,497.98],[505.16,498.25],[505.57,497.75],[500.37,502.28],[501.83,501.96],[499.81,500.46],[499.93,499.74],[499.91,499.59],[506.37,500.62],[506.85,500.21],[504.12,501.29],[504.33,501.51],[503.88,501.29],[503.16,501.15],[503.13,502.96],[501.45,502.87],[501.2,502.04],
[496.49,492.26],[496.66,492.24],[496.82,491.95],[497.27,492.02],[497.57,491.7],[498.26,492.19],[496.26,491.61],[496.3,491.48],[496.36,488.88],[496.24,491.54],
[505.25,493.89],[504.76,493.59],[506.23,493.31],[505.6,493.1],[507.13,492.9],[507.22,492.83],[506.47,492.39],[508.53,491.97],[509.85,492.23],[509.95,491.82],[510.39,492.1],[510.62,491.82],[511.88,491.24],[504.61,491.49],[506.22,490.5],[503,491.35],[503.02,491.21],[503.58,491.09],[503.2,490.42],[502.99,490.18],[503.69,490.15],[503.67,489.63],[504.28,489.41],[504.81,489.58],[504.36,489.67],[505.57,487.79],[506.71,487.38],[505.03,487.08],[504,486.39],[504.18,486.37],[504.16,486.27],[503.82,485.49],[501.14,493.07],[500.88,492.75],[499.86,492.3],[499.98,492.19],[499.62,493.09],[500.09,493.75],[499.95,493.67],[500.47,492.99],[501.6,493.82],[501.27,493.41],[500.13,493.14]];

const legendSat=[[509.03,510.63]];
const legendCen=[[509.03,509.73]];
const tickLabelFont='"DejaVu Sans"';

const ring=(list,r,kind)=>list.map(([x,y])=>({x,y,r,kind}));
const cenRows=[...ring(cenHuge,rHuge,"Cen"),...ring(cenBig,rBig,"Cen"),...ring(cenSmall,rSmall,"Cen"),...ring(cenTiny,rTiny,"Cen"),...ring(legendCen,rLegend,"Cen")];
const satRows=[...ring(satBig,rBig,"Sat"),...ring(satSmall,rSmall,"Sat"),...ring(satTiny,rTiny,"Sat"),...ring(legendSat,rLegend,"Sat")];

// page position -> plot coordinate, for annotations that sit outside the frame
const L=132,R=1233,T=53,B=1213,X0=486.81,X1=512.46,Y0=485,Y1=513.04;
const px=X=>X0+(X-L)/(R-L)*(X1-X0);
const py=Y=>Y0+(B-Y)/(B-T)*(Y1-Y0);
const lenX=p=>p/(R-L)*(X1-X0), lenY=p=>p/(B-T)*(Y1-Y0);

const bigCircle=d3.range(0,361,3).map(a=>({x:502.54+3.49*Math.cos(a*Math.PI/180),y:495.18+3.5*Math.sin(a*Math.PI/180)}));

const label=(t,X,Y,o={})=>Plot.text([t],{x:px(X),y:py(Y),text:d=>d,lineAnchor:"bottom",fontFamily:tickLabelFont,fontWeight:200,fontSize:28,ariaDescription:"idl",...o});
const light=(t,X,Y,fs,o={})=>Plot.text([t],{x:px(X),y:py(Y),text:d=>d,lineAnchor:"bottom",textAnchor:"start",fontFamily:"Roboto",fontWeight:300,fontSize:fs,...o});

const chart=Plot.plot({
  width:1878,height:1301,marginLeft:L,marginRight:1878-R,marginTop:T,marginBottom:1301-B,
  style:{fontFamily:tickLabelFont,background:"#fff",overflow:"hidden",letterSpacing:"1.5px",fontWeight:200,color:"#000"},
  x:{domain:[X0,X1]},y:{domain:[Y0,Y1]},
  r:{type:"linear",domain:[0,1],range:[0,(R-L)/(X1-X0)]},
  color:{domain:["Sat","Cen"],range:["#ff0000","#0000ff"]},
  marks:[
    Plot.dot(cenRows,{x:"x",y:"y",r:"r",stroke:"kind",strokeWidth:1.3,sort:null}),
    Plot.dot(satRows,{x:"x",y:"y",r:"r",stroke:"kind",strokeWidth:1.3,sort:null}),
    Plot.line(bigCircle,{x:"x",y:"y",stroke:"#000",strokeWidth:4.5}),
    // minor + major ticks on all four sides
    Plot.ruleX(xMinor,{y1:Y0,y2:Y0+lenY(11),stroke:"#000",strokeWidth:1.6}),
    Plot.ruleX(xMinor,{y1:Y1,y2:Y1-lenY(11),stroke:"#000",strokeWidth:1.6}),
    Plot.ruleX(xMajor,{y1:Y0,y2:Y0+lenY(23),stroke:"#000",strokeWidth:1.6}),
    Plot.ruleX(xMajor,{y1:Y1,y2:Y1-lenY(23),stroke:"#000",strokeWidth:1.6}),
    Plot.ruleY(yMinor,{x1:X0,x2:X0+lenX(11),stroke:"#000",strokeWidth:1.6}),
    Plot.ruleY(yMinor,{x1:X1,x2:X1-lenX(11),stroke:"#000",strokeWidth:1.6}),
    Plot.ruleY(yMajorTicks,{x1:X0,x2:X0+lenX(22),stroke:"#000",strokeWidth:1.6}),
    Plot.ruleY(yMajorTicks,{x1:X1,x2:X1-lenX(22),stroke:"#000",strokeWidth:1.6}),
    Plot.frame({stroke:"#000",strokeWidth:2.2}),
    Plot.axisX({ticks:xMajor,tickSize:0,tickPadding:24,label:null,fontSize:27,anchor:"bottom"}),
    Plot.axisY({ticks:yMajor,tickSize:0,tickPadding:9,label:null,fontSize:27,anchor:"left",dy:1}),
    label("485",123,1214,{textAnchor:"end",fontSize:27}),
    label("Z =1.61",681,34,{fontSize:30}),
    label("x [Mpc/h]",683,1294,{fontSize:28}),
    Plot.text(["y [Mpc/h]"],{x:px(34),y:py(634),text:d=>d,rotate:-90,fontSize:28,fontFamily:tickLabelFont,fontWeight:200,ariaDescription:"idl"}),
    // scale bars and key
    Plot.ruleY([511.51],{x1:506.94,x2:511.13,stroke:"#000",strokeWidth:6.5}),
    Plot.ruleY([487.02],{x1:488.0,x2:494.52,stroke:"#000",strokeWidth:6.5}),
    label("2.5 Mpc/h (phys.)",183,1108,{textAnchor:"start",fontSize:28}),
    label("8R200",973,126,{textAnchor:"end",fontSize:26,render:(i,s,v,d,c,next)=>{
      const g=next(i,s,v,d,c);
      g.querySelectorAll("text").forEach(t=>{
        t.textContent="8R";
        const sp=document.createElementNS("http://www.w3.org/2000/svg","tspan");
        sp.textContent="200";sp.setAttribute("font-size","20");sp.setAttribute("dy","6");t.appendChild(sp);
      });
      return g;}}),
    label("Sat",971,162,{textAnchor:"end",fontSize:28}),
    label("Cen",971,198,{textAnchor:"end",fontSize:28}),
    // beams
    Plot.dot([0],{x:px(1398.7),y:py(89),r:()=>0.56,fill:"#2f80b6",ariaDescription:"beam"}),
    Plot.dot([0],{x:px(1395),y:py(193.7),r:()=>0.33,fill:"#2f9e41",ariaDescription:"beam"}),
    light("band 3 beam",1480,112,62),
    light("band 6 beam",1480,216,62),
    // 15' arrow
    Plot.ruleX([px(1289)],{y1:py(297),y2:py(960),stroke:"#000",strokeWidth:3}),
    Plot.dot([0],{x:px(1289),y:py(295),symbol:"triangle",r:()=>0.14,fill:"#000"}),
    Plot.dot([0],{x:px(1289),y:py(962),symbol:"triangle",r:()=>0.14,fill:"#000",rotate:180}),
    light("~15’",1326,637,72),
    light("15’x15’ is",1358,1093,48.4),
    light("~1000 band 3 beams",1358,1152,48.4),
    light("~6000 band 6 beams",1358,1213,48.4),
    Plot.text(["Contini et al. (2015)"],{x:px(431),y:py(1333),text:d=>d,lineAnchor:"bottom",textAnchor:"end",fontFamily:"Roboto",fontWeight:300,fontStyle:"italic",fontSize:60})
  ]
});
document.body.appendChild(chart);
</script>
</body></html>
